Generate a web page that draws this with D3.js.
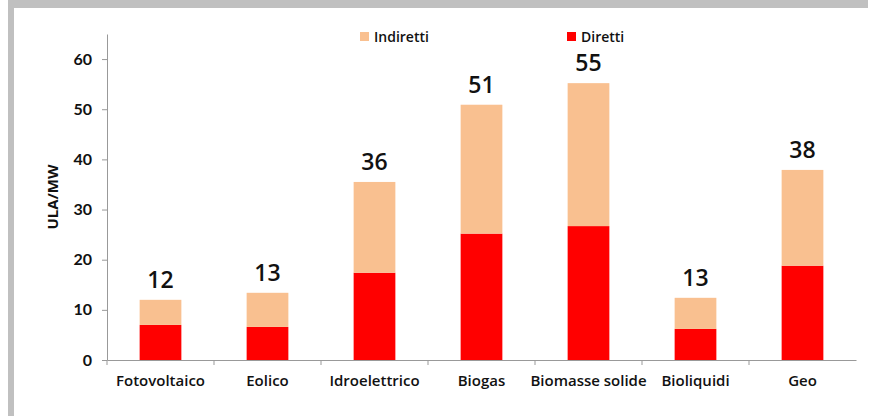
<!DOCTYPE html>
<html>
<head>
<meta charset="utf-8">
<script src="https://cdn.jsdelivr.net/npm/d3@7"></script>
<style>
	body { margin: 0; background: #fff; }
	svg { display: block; font-family: "Open Sans", Lato, sans-serif; }
</style>
</head>
<body>
<svg id="svg"></svg>
<script>

// data
const categories = ["Fotovoltaico", "Eolico", "Idroelettrico", "Biogas", "Biomasse solide", "Bioliquidi", "Geo"];
const diretti    = [7.0, 6.6, 17.4, 25.2, 26.7, 6.2, 18.8];
const indiretti  = [5.0, 6.8, 18.1, 25.7, 28.5, 6.2, 19.1];
const totLabels  = ["12", "13", "36", "51", "55", "13", "38"];
const yTicks     = [0, 10, 20, 30, 40, 50, 60];

const seriesNames  = ["Indiretti", "Diretti"];
const seriesColors = { Diretti: "#ff0000", Indiretti: "#f9c090" };

let width = 871,
	height = 416,
	m = [34, 15, 56, 107];

const rows = categories.map((c, i) => ({ cat: c, Diretti: diretti[i], Indiretti: indiretti[i], label: totLabels[i] }));

const svg = d3.select("svg#svg")
	.attr("width", width)
	.attr("height", height);

// frame
svg.append("rect").attr("x", 8).attr("y", 0).attr("width", 860).attr("height", 8).attr("fill", "#c0c0c0");
svg.append("rect").attr("x", 8).attr("y", 0).attr("width", 6).attr("height", height).attr("fill", "#c0c0c0");

const xScale = d3.scaleBand()
	.domain(categories)
	.range([m[3], width - m[1]])
	.paddingInner(0.61)
	.paddingOuter(0.305);

const xBand = d3.scaleBand()
	.domain(categories)
	.range([m[3], width - m[1]]);

const yScale = d3.scaleLinear()
	.domain([0, 65])
	.range([height - m[2], m[0]]);

const stack = d3.stack().keys(["Diretti", "Indiretti"]);
const layers = stack(rows);

// bars
svg.selectAll("g.layer")
	.data(layers)
	.enter()
	.append("g")
	.attr("class", "layer")
	.attr("fill", d => seriesColors[d.key])
	.selectAll("rect")
	.data(d => d)
	.enter()
	.append("rect")
	.attr("x", d => xScale(d.data.cat))
	.attr("width", xScale.bandwidth())
	.attr("y", d => yScale(d[1]))
	.attr("height", d => yScale(d[0]) - yScale(d[1]));

// total labels
svg.selectAll("text.total")
	.data(rows)
	.enter()
	.append("text")
	.attr("class", "total")
	.attr("x", d => xScale(d.cat) + xScale.bandwidth() / 2)
	.attr("y", d => yScale(d.Diretti + d.Indiretti) - 12)
	.attr("text-anchor", "middle")
	.attr("font-size", 23)
	.attr("font-weight", 600)
	.attr("fill", "#111")
	.text(d => d.label);

// y axis
const yAxis = svg.append("g")
	.attr("transform", `translate(${m[3]},0)`)
	.call(d3.axisLeft(yScale).tickValues(yTicks).tickSize(5).tickSizeOuter(0).tickPadding(10));
yAxis.select(".domain").attr("stroke", "#999");
yAxis.selectAll(".tick line").attr("stroke", "#999");
yAxis.selectAll("text").attr("font-size", 16).attr("font-weight", 700).attr("fill", "#111").attr("font-family", "Lato");

// x axis
const xAxis = svg.append("g")
	.attr("transform", `translate(0,${yScale(0)})`)
	.call(d3.axisBottom(xBand).tickSize(0).tickPadding(15));
xAxis.select(".domain").attr("stroke", "#999");
xAxis.selectAll("text").attr("font-size", 15).attr("font-weight", 600).attr("fill", "#111").attr("font-family", "Open Sans");

// category separators
svg.selectAll("line.sep")
	.data(categories)
	.enter()
	.append("line")
	.attr("class", "sep")
	.attr("x1", d => xBand(d))
	.attr("x2", d => xBand(d))
	.attr("y1", yScale(0))
	.attr("y2", yScale(0) + 5)
	.attr("stroke", "#999");

// y title
svg.append("text")
	.text("ULA/MW")
	.attr("text-anchor", "middle")
	.attr("transform", "rotate(-90,58,197)")
	.attr("x", 58)
	.attr("y", 197)
	.attr("font-size", 15)
	.attr("font-weight", 700)
	.attr("fill", "#111");

// legend
const legendX = [360, 567];
const legend = svg.selectAll("g.legend")
	.data(seriesNames)
	.enter()
	.append("g")
	.attr("class", "legend")
	.attr("transform", (d, i) => `translate(${legendX[i]},32)`);
legend.append("rect")
	.attr("width", 9)
	.attr("height", 9)
	.attr("fill", d => seriesColors[d]);
legend.append("text")
	.attr("x", 14)
	.attr("y", 10)
	.attr("font-size", 14)
	.attr("font-weight", 600)
	.attr("fill", "#111")
	.text(d => d);

</script>
</body>
</html>
